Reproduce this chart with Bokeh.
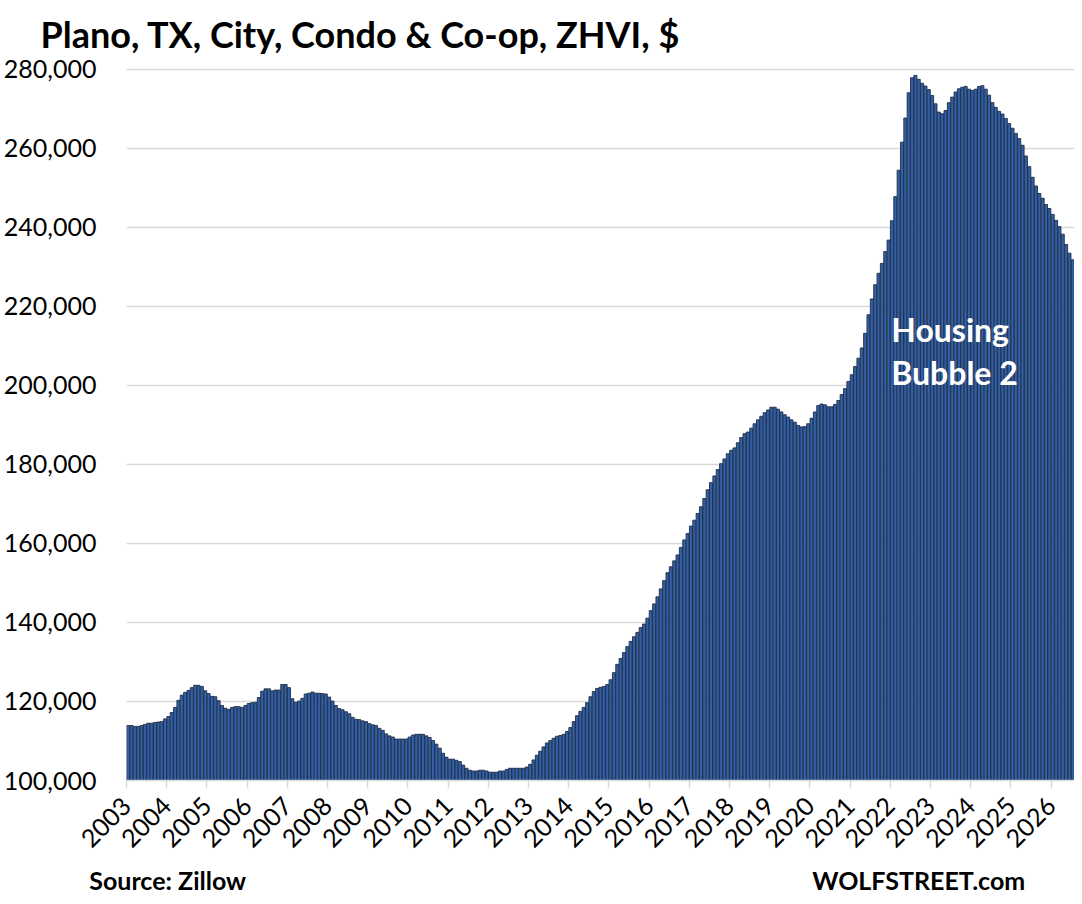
import math
from bokeh.plotting import figure
from bokeh.models import Range1d, FixedTicker, NumeralTickFormatter, Label, LinearAxis
from bokeh.embed import file_html
from bokeh.resources import INLINE

# Monthly ZHVI (USD), Jan 2003 onward
zhvi = [
    113900, 113900, 113700, 113700, 113900, 114200, 114500, 114500, 114700, 114800, 114900, 115600,
    116200, 117200, 118500, 120300, 121600, 122300, 122800, 123500, 124100, 124100, 123800, 122700,
    122000, 121300, 121200, 120200, 119000, 118300, 118000, 118500, 118700, 118700, 118500, 119000,
    119500, 119700, 119800, 121000, 122600, 123200, 123200, 122700, 122900, 122900, 124300, 124300,
    123500, 120700, 119800, 120100, 120800, 121900, 122100, 122400, 122100, 122100, 122000, 121900,
    121100, 120100, 119000, 118200, 117900, 117400, 116900, 116000, 115500, 115400, 115100, 114900,
    114400, 114100, 113900, 113200, 112700, 111800, 111300, 111000, 110500, 110500, 110500, 110500,
    111000, 111500, 111700, 111700, 111700, 111300, 110900, 110100, 109200, 108200, 106900, 105900,
    105400, 105400, 105100, 104800, 103900, 103100, 102600, 102400, 102400, 102600, 102600, 102400,
    102100, 102100, 102100, 102400, 102400, 102800, 103100, 103100, 103100, 103100, 103100, 103400,
    104100, 105200, 106400, 107400, 108500, 109500, 110100, 110700, 111200, 111400, 111700, 112400,
    113400, 114900, 116400, 117500, 118500, 119700, 121200, 122500, 123300, 123600, 123800, 124300,
    125500, 127300, 129400, 130900, 132400, 133900, 135200, 136400, 137500, 138700, 139600, 141100,
    143000, 144700, 146500, 148500, 150600, 152600, 154100, 155600, 157100, 159000, 160900, 162500,
    164400, 165900, 167600, 169300, 171400, 173600, 175400, 177100, 178700, 180200, 181400, 182700,
    183600, 184200, 185500, 186800, 187800, 188200, 189200, 190300, 191300, 192200, 193100, 193800,
    194500, 194500, 194000, 193300, 192600, 192000, 191300, 190700, 189900, 189500, 189600, 190300,
    191700, 193300, 194900, 195300, 195100, 194600, 194600, 195200, 196200, 197700, 199200, 201000,
    202700, 204800, 206900, 209500, 213200, 217900, 221900, 225500, 228400, 230900, 233900, 236800,
    241700, 247800, 254500, 261600, 267700, 274100, 277900, 278500, 277500, 276500, 275800, 274900,
    273400, 271300, 269200, 268800, 269600, 271600, 273000, 274300, 275100, 275500, 275700, 275000,
    274700, 275000, 275700, 275900, 275000, 273500, 271600, 270400, 269400, 268700, 267600, 266300,
    265100, 263800, 262500, 260800, 258100, 255400, 252700, 250500, 248600, 247400, 245800, 244800,
    243300, 241800, 240200, 238300, 235700, 233500, 231800,
]
year_labels = [str(y) for y in range(2003, 2027)]
y_ticks = [100000, 120000, 140000, 160000, 180000, 200000, 220000, 240000, 260000, 280000]
footer_texts = ["Source: Zillow", "WOLFSTREET.com"]
footer_pos = [12.3, 236.5]

months = list(range(len(zhvi)))
bar_x = [m + 0.5 for m in months]
year_ticks = [12 * i for i in range(len(year_labels))]

FONT = "Lato"

p = figure(width=1074, height=902, output_backend="svg", toolbar_location=None,
           x_range=Range1d(0, len(zhvi)), y_range=Range1d(100000, 281000),
           min_border_left=123, min_border_right=0, min_border_top=64,
           min_border_bottom=122)
p.outline_line_color = None
p.background_fill_color = "white"

p.title.text = "Plano, TX, City, Condo & Co-op, ZHVI, $"
p.title.align = "left"
p.title.offset = -86
p.title.standoff = 19
p.title.text_font = FONT
p.title.text_font_size = "36px"
p.title.text_font_style = "bold"
p.title.text_color = "black"

p.vbar(x=bar_x, top=zhvi, bottom=100000, width=0.9,
       fill_color="#3060aa", line_color="#202c42", line_width=0.9)

p.xgrid.visible = False
p.ygrid.grid_line_color = "#d9d9d9"
p.ygrid.grid_line_width = 1.5

p.yaxis.ticker = FixedTicker(ticks=y_ticks)
p.yaxis.formatter = NumeralTickFormatter(format="0,0")
p.yaxis.axis_line_color = None
p.yaxis.major_tick_line_color = None
p.yaxis.minor_tick_line_color = None
p.yaxis.major_label_standoff = 24

p.xaxis.ticker = FixedTicker(ticks=year_ticks)
p.xaxis.major_label_overrides = {t: lab for t, lab in zip(year_ticks, year_labels)}
p.xaxis.major_label_orientation = math.pi / 4
p.xaxis.axis_line_color = "#d9d9d9"
p.xaxis.axis_line_width = 1.5
p.xaxis.major_tick_line_color = "#d9d9d9"
p.xaxis.major_tick_line_width = 1.5
p.xaxis.major_tick_out = 8
p.xaxis.major_tick_in = 0
p.xaxis.minor_tick_line_color = None
p.xaxis.major_label_standoff = 13

for ax in (p.xaxis, p.yaxis):
    ax.major_label_text_font = FONT
    ax.major_label_text_font_size = "25px"
    ax.major_label_text_color = "black"

footer = LinearAxis(ticker=FixedTicker(ticks=footer_pos),
                    major_label_overrides={t: s for t, s in zip(footer_pos, footer_texts)})
footer.axis_line_color = None
footer.major_tick_line_color = None
footer.minor_tick_line_color = None
footer.major_tick_out = 0
footer.major_tick_in = 0
footer.major_label_standoff = 6
footer.major_label_text_font = FONT
footer.major_label_text_font_size = "25px"
footer.major_label_text_font_style = "bold"
footer.major_label_text_color = "black"
p.add_layout(footer, "below")

def add_label(x, y, text, size, color="black", align="left"):
    p.add_layout(Label(x=x, y=y, text=text, text_font=FONT, text_font_size=size,
                       text_font_style="bold", text_color=color, text_align=align,
                       text_baseline="alphabetic"))

add_label(228.3, 214200, "Housing", "32px", color="white")
add_label(228.3, 203400, "Bubble 2", "32px", color="white")

open("out.html", "w").write(file_html(p, INLINE))
